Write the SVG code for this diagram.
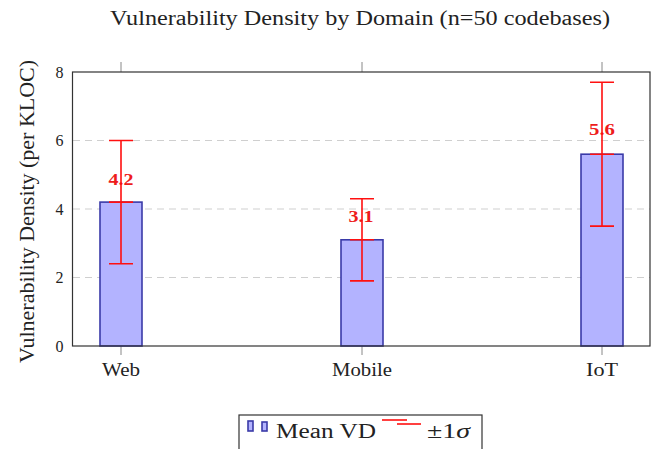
<svg xmlns="http://www.w3.org/2000/svg" width="658" height="449" viewBox="0 0 658 449">
<style>
text{font-family:"Liberation Serif","DejaVu Serif",serif;fill:#222}
.grid{stroke:#cfcfcf;stroke-width:1;stroke-dasharray:7,5}
.tick{stroke:#888;stroke-width:1}
.bar{fill:#b3b3ff;stroke:#3a3aa8;stroke-width:1.6}
.err{stroke:#ff1010;stroke-width:1.6;fill:none}
.val{fill:#ee1c1c;font-size:17px;font-weight:bold;text-anchor:middle}
.xl{font-size:19px;text-anchor:middle}
.yl{font-size:16px;text-anchor:end}
</style>
<rect width="658" height="449" fill="#fff"/>
<text x="360" y="24.5" font-size="20" text-anchor="middle" textLength="500" lengthAdjust="spacingAndGlyphs">Vulnerability Density by Domain (n=50 codebases)</text>
<text transform="translate(34,211.5) rotate(-90)" font-size="21" text-anchor="middle" textLength="303" lengthAdjust="spacingAndGlyphs">Vulnerability Density (per KLOC)</text>
<g id="grid">
<line class="grid" x1="73" y1="277.5" x2="650" y2="277.5"/>
<line class="grid" x1="73" y1="209" x2="650" y2="209"/>
<line class="grid" x1="73" y1="140.5" x2="650" y2="140.5"/>
</g>
<g id="ticks">
<line class="tick" x1="121" y1="62" x2="121" y2="72"/>
<line class="tick" x1="362" y1="62" x2="362" y2="72"/>
<line class="tick" x1="602" y1="62" x2="602" y2="72"/>
<line class="tick" x1="121" y1="346" x2="121" y2="355"/>
<line class="tick" x1="362" y1="346" x2="362" y2="355"/>
<line class="tick" x1="602" y1="346" x2="602" y2="355"/>
</g>
<g id="yticks">
<text class="yl" x="63.5" y="351.5">0</text>
<text class="yl" x="63.5" y="283">2</text>
<text class="yl" x="63.5" y="214.5">4</text>
<text class="yl" x="63.5" y="146">6</text>
<text class="yl" x="63.5" y="77.5">8</text>
</g>
<g id="bar-web">
<rect class="bar" x="100" y="202.1" width="42" height="143.9"/>
<text class="val" x="121" y="184.5" textLength="25" lengthAdjust="spacingAndGlyphs">4.2</text>
</g>
<g id="bar-mobile">
<rect class="bar" x="341" y="239.8" width="42" height="106.2"/>
<text class="val" x="361" y="221.5" textLength="25" lengthAdjust="spacingAndGlyphs">3.1</text>
</g>
<g id="bar-iot">
<rect class="bar" x="581" y="154.2" width="42" height="191.8"/>
<text class="val" x="602" y="135" textLength="26" lengthAdjust="spacingAndGlyphs">5.6</text>
</g>
<g id="connectors">
<path class="err" d="M121 140.5V263.8M109 140.5H133M109 263.8H133M109 202.1H133"/>
<path class="err" d="M362 198.7V280.9M350 198.7H374M350 280.9H374M350 239.8H374"/>
<path class="err" d="M602 82.3V226.1M590 82.3H614M590 226.1H614M590 154.2H614"/>
</g>
<rect x="72.5" y="72" width="577.5" height="274" fill="none" stroke="#333" stroke-width="1.2"/>
<g id="xlabels">
<text class="xl" x="121" y="376" textLength="38" lengthAdjust="spacingAndGlyphs">Web</text>
<text class="xl" x="362" y="376" textLength="60" lengthAdjust="spacingAndGlyphs">Mobile</text>
<text class="xl" x="602" y="376" textLength="32" lengthAdjust="spacingAndGlyphs">IoT</text>
</g>
<g id="legend">
<rect x="239" y="415" width="243" height="40" fill="#fff" stroke="#333" stroke-width="1.2"/>
<rect class="bar" x="248" y="421" width="5" height="10" stroke-width="1.2"/>
<rect class="bar" x="262" y="422" width="5" height="9" stroke-width="1.2"/>
<text x="276" y="438" font-size="20" textLength="100" lengthAdjust="spacingAndGlyphs">Mean VD</text>
<line class="err" x1="382" y1="420" x2="407" y2="420" stroke-width="2"/>
<line class="err" x1="397" y1="424" x2="421" y2="424" stroke-width="2"/>
<text x="427" y="438" font-size="20" textLength="43" lengthAdjust="spacingAndGlyphs">±1<tspan font-style="italic">σ</tspan></text>
</g>
</svg>
